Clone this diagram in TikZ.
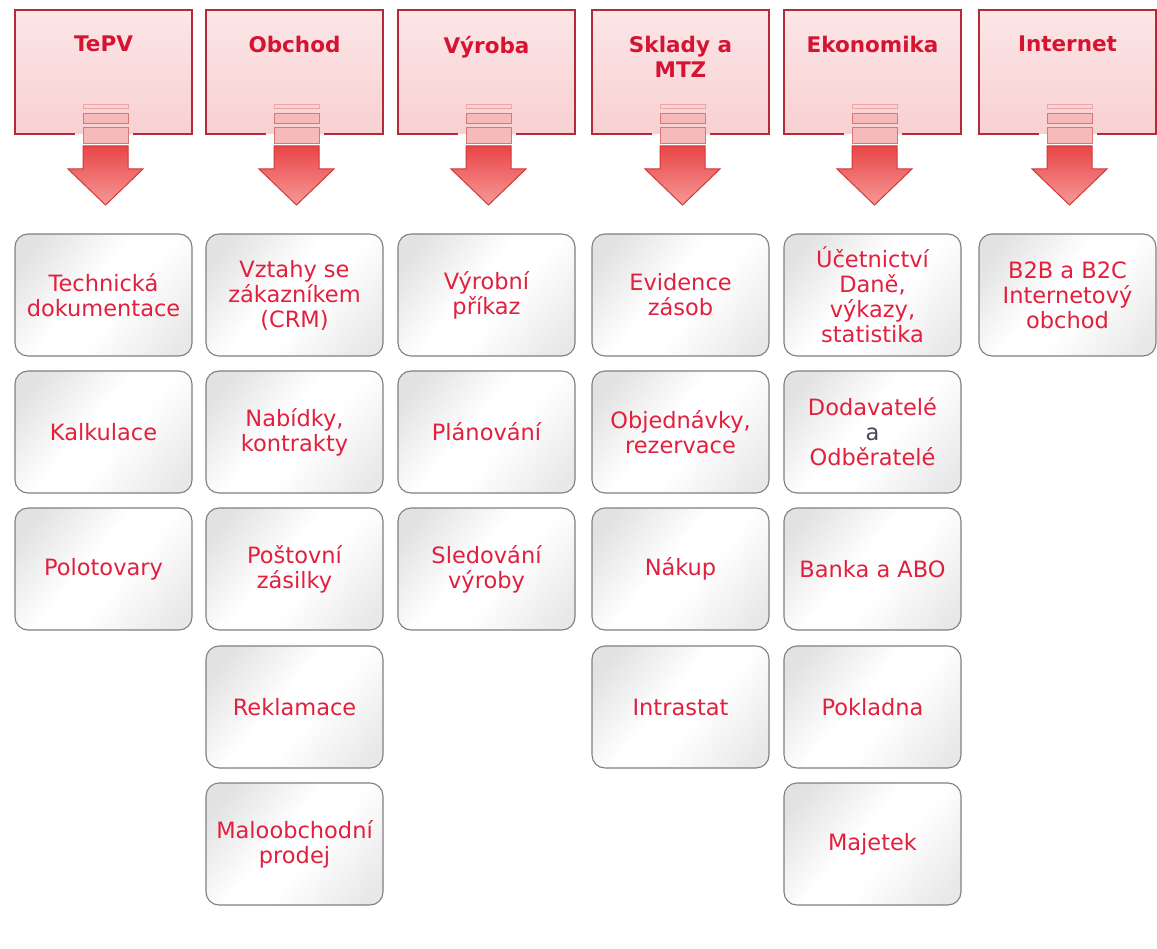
\documentclass[tikz,border=0pt]{standalone}
\usepackage{fontspec}
\setmainfont{DejaVu Sans}
\definecolor{hdrtxt}{RGB}{212,20,50}
\definecolor{itemtxt}{RGB}{226,32,62}
\definecolor{andtxt}{RGB}{70,70,90}
\definecolor{hdrtop}{RGB}{252,230,230}
\definecolor{hdrbot}{RGB}{248,208,210}
\definecolor{hdrline}{RGB}{180,42,56}
\definecolor{boxline}{RGB}{128,128,128}
\definecolor{boxgray}{RGB}{226,226,226}
\definecolor{boxgrayB}{RGB}{232,232,232}
\definecolor{arrtop}{RGB}{232,70,70}
\definecolor{arrbot}{RGB}{248,152,152}
\definecolor{arrline}{RGB}{208,58,58}
\definecolor{stripeAfill}{RGB}{250,212,212}
\definecolor{stripeAline}{RGB}{236,165,165}
\definecolor{stripeBfill}{RGB}{246,186,186}
\definecolor{stripeBline}{RGB}{218,118,118}
\pgfdeclarehorizontalshading{boxshade}{100bp}{color(0bp)=(boxgray); color(22bp)=(boxgray); color(45bp)=(white); color(56bp)=(white); color(80bp)=(boxgrayB); color(100bp)=(boxgrayB)}
\tikzset{
  itembox/.style={draw=boxline, line width=1.1pt, rounded corners=13pt,
    minimum width=177pt, minimum height=122pt, inner sep=0pt, align=center,
    shading=boxshade, shading angle=-40,
    text=itemtxt, font=\fontsize{22.5}{25}\selectfont},
  hdrtext/.style={text=hdrtxt, font=\bfseries\fontsize{21.5}{25}\selectfont,
    align=center, anchor=north, inner sep=0pt},
  hdrbox/.style={top color=hdrtop, bottom color=hdrbot},
  hdrborder/.style={draw=hdrline, line width=1.3pt},
  stripeA/.style={fill=stripeAfill, draw=stripeAline, line width=0.8pt},
  stripeB/.style={fill=stripeBfill, draw=stripeBline, line width=0.9pt},
  arrowshape/.style={draw=arrline, line width=1pt, top color=arrtop, bottom color=arrbot, line join=miter},
}
\newcommand\hdrcol[1]{%
  \shade[hdrbox] (#1,10) rectangle (#1+177,134);
  \draw[hdrborder] (#1+60,134) -- (#1,134) -- (#1,10) -- (#1+177,10) -- (#1+177,134) -- (#1+118,134);
  \draw[stripeA] (#1+68,104) rectangle (#1+113,108);
  \draw[stripeB] (#1+68,113) rectangle (#1+113,123);
  \draw[stripeB] (#1+68,127) rectangle (#1+113,143);
  \shadedraw[arrowshape] (#1+68,146) -- (#1+113,146) -- (#1+113,169) -- (#1+128,169)
     -- (#1+90.5,205) -- (#1+53,169) -- (#1+68,169) -- cycle;
}
\begin{document}
\begin{tikzpicture}[x=1pt,y=-1pt]
\useasboundingbox (0,0) rectangle (1157,949);
\fill[white] (0,0) rectangle (1157,949);
% headers
\hdrcol{15}
\hdrcol{206}
\hdrcol{398}
\hdrcol{592}
\hdrcol{784}
\hdrcol{979}
\node[hdrtext] (h1) at (15+88.5,36) {TePV};
\node[hdrtext] (h2) at (206+88.5,36) {Obchod};
\node[hdrtext] (h3) at (398+88.5,36) {Výroba};
\node[hdrtext] (h4) at (592+88.5,36) {Sklady a\\MTZ};
\node[hdrtext] (h5) at (784+88.5,36) {Ekonomika};
\node[hdrtext] (h6) at (979+88.5,36) {Internet};
% column 1
\node[itembox] (b11) at (15+88.5,234+61) {Technická\\dokumentace};
\node[itembox] (b12) at (15+88.5,371+61) {Kalkulace};
\node[itembox] (b13) at (15+88.5,508+61) {Polotovary};
% column 2
\node[itembox] (b21) at (206+88.5,234+61) {Vztahy se\\zákazníkem\\(CRM)};
\node[itembox] (b22) at (206+88.5,371+61) {Nabídky,\\kontrakty};
\node[itembox] (b23) at (206+88.5,508+61) {Poštovní\\zásilky};
\node[itembox] (b24) at (206+88.5,646+61) {Reklamace};
\node[itembox] (b25) at (206+88.5,783+61) {Maloobchodní\\prodej};
% column 3
\node[itembox] (b31) at (398+88.5,234+61) {Výrobní\\příkaz};
\node[itembox] (b32) at (398+88.5,371+61) {Plánování};
\node[itembox] (b33) at (398+88.5,508+61) {Sledování\\výroby};
% column 4
\node[itembox] (b41) at (592+88.5,234+61) {Evidence\\zásob};
\node[itembox] (b42) at (592+88.5,371+61) {Objednávky,\\rezervace};
\node[itembox] (b43) at (592+88.5,508+61) {Nákup};
\node[itembox] (b44) at (592+88.5,646+61) {Intrastat};
% column 5
\node[itembox] (b51) at (784+88.5,234+61) {Účetnictví\\Daně,\\výkazy,\\statistika};
\node[itembox] (b52) at (784+88.5,371+61) {Dodavatelé\\{\color{andtxt}a}\\Odběratelé};
\node[itembox] (b53) at (784+88.5,508+61) {Banka a ABO};
\node[itembox] (b54) at (784+88.5,646+61) {Pokladna};
\node[itembox] (b55) at (784+88.5,783+61) {Majetek};
% column 6
\node[itembox] (b61) at (979+88.5,234+61) {B2B a B2C\\Internetový\\obchod};
\end{tikzpicture}
\end{document}
